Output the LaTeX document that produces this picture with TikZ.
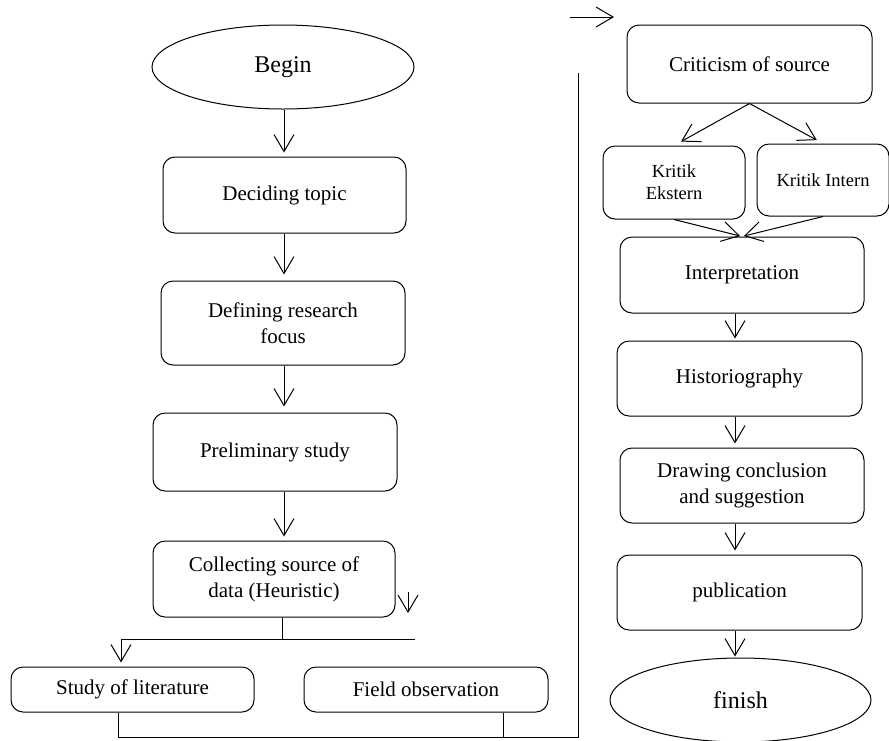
\documentclass[tikz,border=0pt]{standalone}
\usepackage{fontspec}
\setmainfont{Liberation Serif}
\usepackage{tikz}
\usetikzlibrary{arrows.meta, shapes.geometric}

\begin{document}
\begin{tikzpicture}[x=1pt, y=-1pt, line width=1pt,
  stepbox/.style={draw, rounded corners=12pt, align=center, inner sep=0pt,
    font=\fontsize{21}{26}\selectfont},
  endbox/.style={draw, ellipse, inner sep=0pt, font=\fontsize{24}{28}\selectfont},
  flow/.style={-{Straight Barb[length=17pt, width=20pt]}, shorten >=4pt}]
\useasboundingbox (0,0) rectangle (889,740);
\node[endbox, minimum width=262pt, minimum height=84pt] (begin) at (283,67) {Begin};
\node[stepbox, minimum width=243pt, minimum height=76pt] (decide) at (284.5,195) {Deciding topic};
\node[stepbox, minimum width=244pt, minimum height=84pt] (focus) at (283,323) {Defining research\\focus};
\node[stepbox, minimum width=244pt, minimum height=78pt] (prelim) at (275,452) {Preliminary study};
\node[stepbox, minimum width=242pt, minimum height=76pt] (collect) at (274,579) {Collecting source of\\data (Heuristic)};
\node[stepbox, minimum width=243pt, minimum height=45pt] (study) at (132.5,689.5) {Study of literature};
\node[stepbox, minimum width=244pt, minimum height=45pt] (field) at (426,689.5) {Field observation};
\node[stepbox, minimum width=245pt, minimum height=78pt] (crit) at (749.5,64) {Criticism of source};
\node[stepbox, minimum width=142pt, minimum height=73pt, font=\fontsize{18.5}{22}\selectfont] (ekst) at (674,182.5) {Kritik\\Ekstern};
\node[stepbox, minimum width=132pt, minimum height=72pt, font=\fontsize{18.5}{22}\selectfont] (intern) at (823,180) {Kritik Intern};
\node[stepbox, minimum width=244pt, minimum height=76pt] (interp) at (742,275) {Interpretation};
\node[stepbox, minimum width=245pt, minimum height=75pt] (histo) at (739.5,378.5) {Historiography};
\node[stepbox, minimum width=244pt, minimum height=75pt] (concl) at (742,485.5) {Drawing conclusion\\and suggestion};
\node[stepbox, minimum width=245pt, minimum height=75pt] (publ) at (739.5,592.5) {publication};
\node[endbox, minimum width=261pt, minimum height=84pt] (finish) at (740.5,700) {finish};

\coordinate (lc) at (284,0);
\coordinate (rc) at (735,0);
\coordinate (split) at (282,639);
\coordinate (hl) at (121,639);
\coordinate (hr) at (415,639);
\coordinate (bl) at (118,737);
\coordinate (fd) at (503,737);
\coordinate (br) at (578,737);
\coordinate (up) at (578,73);
\coordinate (ta) at (570,17);
\coordinate (tb) at (614,17);
\coordinate (sa) at (408,592);
\coordinate (sb) at (408,613);

\draw[flow] (begin.south -| lc) -- (decide.north -| lc);
\draw[flow, shorten >=6pt] (decide.south -| lc) -- (focus.north -| lc);
\draw[flow, shorten >=6pt] (focus.south -| lc) -- (prelim.north -| lc);
\draw[flow] (prelim.south -| lc) -- (collect.north -| lc);
\draw (collect.south -| split) -- (split);
\draw (hl) -- (hr);
\draw[flow] (hl) -- (hl |- study.north);
\draw[flow, shorten >=0pt] (sa) -- (sb);
\draw (study.south -| bl) -- (bl) -- (br) -- (up);
\draw (field.south -| fd) -- (fd);
\draw[flow, shorten >=0pt] (ta) -- (tb);
\draw[flow, shorten >=8pt] (crit.south) -- (ekst.north);
\draw[flow, shorten >=7pt] (crit.south) -- (intern.north);
\draw[flow, shorten >=2pt] (ekst.south) -- (interp.north);
\draw[flow, shorten >=2pt] (intern.south) -- (interp.north);
\draw[flow, shorten >=2pt] (interp.south -| rc) -- (histo.north -| rc);
\draw[flow] (histo.south -| rc) -- (concl.north -| rc);
\draw[flow] (concl.south -| rc) -- (publ.north -| rc);
\draw[flow, shorten >=1pt] (publ.south -| rc) -- (finish.north -| rc);
\end{tikzpicture}
\end{document}
